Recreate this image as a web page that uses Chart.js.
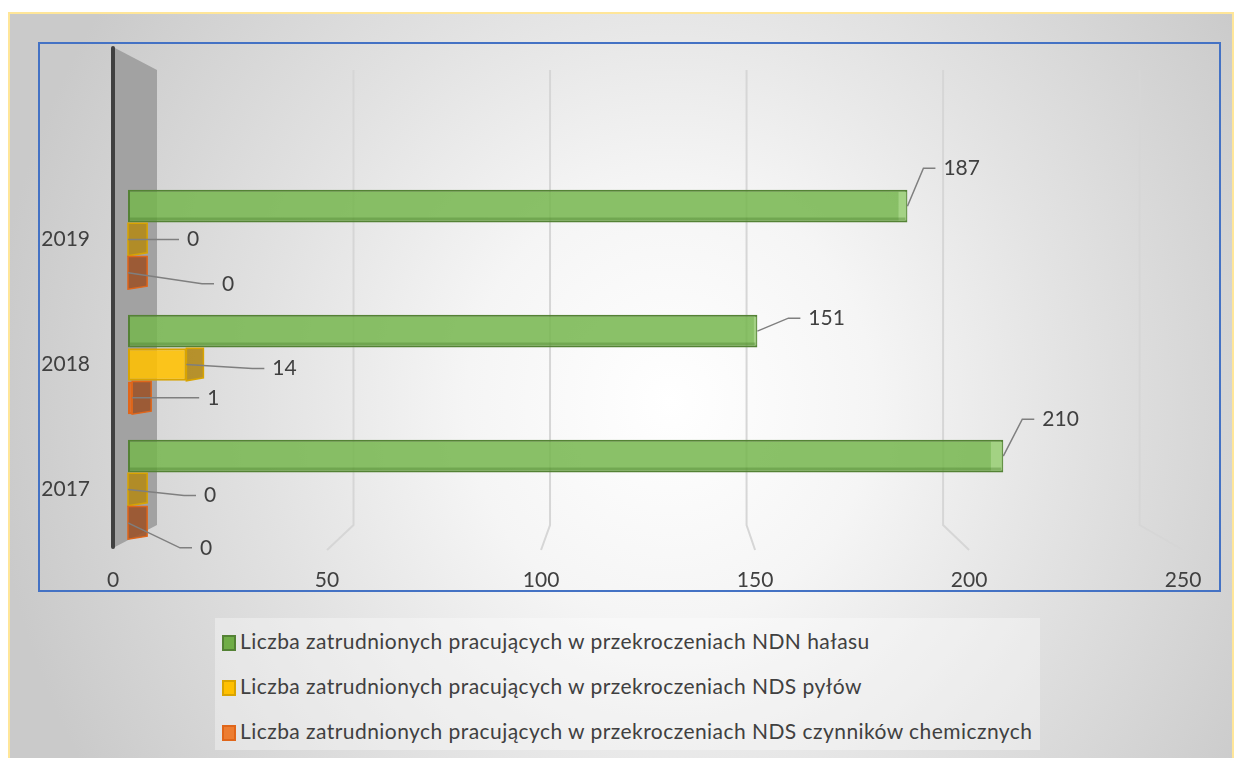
<!DOCTYPE html>
<html>
<head>
<meta charset="utf-8">
<script src="https://cdn.jsdelivr.net/npm/chart.js@4.4.1/dist/chart.umd.min.js"></script>
<style>
  body { margin: 0; background: #fff; font-family: Lato, "Open Sans", sans-serif; }
  #frame {
    position: absolute; left: 8px; top: 12px; width: 1222px; height: 760px;
    border: 2px solid #ffe699; border-bottom: none;
    background: radial-gradient(ellipse 680px 720px at 660px 388px, #ffffff 0%, #f5f5f5 30%, #e2e2e2 60%, #cacaca 100%);
  }
  #box { position: absolute; left: 38px; top: 42px; width: 1179px; height: 546px; border: 2px solid #4472c4; }
  #graph { position: absolute; left: 0; top: 0; }
  #legend {
    position: absolute; left: 215px; top: 618px; width: 825px; height: 132px;
    background: rgba(255, 255, 255, 0.35);
  }
  .item { position: absolute; left: 7px; height: 24px; line-height: 24px; font-size: 21px; letter-spacing: 0.45px; color: #404040; white-space: nowrap; }
  .item i { display: inline-block; width: 10px; height: 12px; border: 2px solid; margin-right: 4px; vertical-align: -2px; }
</style>
</head>
<body>
<div id="frame"></div>
<div id="box"></div>
<canvas id="graph" width="1235" height="600"></canvas>
<div id="legend"></div>
<script>
var years = ['2017', '2018', '2019'];
var noise = [210, 151, 187];
var dust = [0, 14, 0];
var chemicals = [0, 1, 0];
var seriesNames = [
  'Liczba zatrudnionych pracujących w przekroczeniach NDN hałasu',
  'Liczba zatrudnionych pracujących w przekroczeniach NDS pyłów',
  'Liczba zatrudnionych pracujących w przekroczeniach NDS czynników chemicznych'
];

// where each value label sits, measured from its bar end (per series, per year)
var labelShift = [
  [[39, -37], [51, -13], [36, -38]],
  [[76, 6], [86, 4], [59, 0]],
  [[72, 25], [75, 0], [94, 11]]
];
var sideColors = ['rgba(175,220,145,0.7)', 'rgba(178,138,28,0.92)', 'rgba(155,85,45,0.92)'];
var legendFill = ['#70ad47', '#ffc000', '#ed7d31'];

var fake3d = {
  id: 'fake3d',
  beforeDatasetsDraw: function(chart) {
    var ctx = chart.ctx, a = chart.chartArea, x = chart.scales.x;
    var p0 = x.getPixelForValue(0);
    var back = function(p) { return p0 + 29 + (p - p0) * 0.943; };
    var front = function(p) { return p0 - 15 + (p - p0) * 1.027; };
    ctx.save();
    ctx.strokeStyle = '#d6d6d6';
    ctx.lineWidth = 2;
    x.ticks.forEach(function(t) {
      if (t.value === 0) return;
      var p = x.getPixelForValue(t.value);
      ctx.beginPath();
      ctx.moveTo(back(p), a.top - 107);
      ctx.lineTo(back(p), a.bottom - 27);
      ctx.lineTo(front(p), a.bottom - 2);
      ctx.stroke();
    });
    // left wall
    ctx.fillStyle = '#a2a2a2';
    ctx.beginPath();
    ctx.moveTo(front(p0), a.top - 130);
    ctx.lineTo(back(p0), a.top - 107);
    ctx.lineTo(back(p0), a.bottom - 27);
    ctx.lineTo(front(p0), a.bottom - 4);
    ctx.closePath();
    ctx.fill();
    ctx.strokeStyle = '#404040';
    ctx.lineWidth = 4;
    ctx.lineCap = 'round';
    ctx.beginPath();
    ctx.moveTo(front(p0), a.top - 129);
    ctx.lineTo(front(p0), a.bottom - 5);
    ctx.stroke();
    ctx.restore();
  },
  afterDatasetsDraw: function(chart) {
    var ctx = chart.ctx, a = chart.chartArea, x = chart.scales.x;
    var p0 = x.getPixelForValue(0);
    var front = function(p) { return p0 - 15 + (p - p0) * 1.027; };
    ctx.save();
    chart.data.datasets.forEach(function(ds, di) {
      chart.getDatasetMeta(di).data.forEach(function(bar, i) {
        var top = bar.y - bar.height / 2, bot = bar.y + bar.height / 2;
        var d = (p0 + 532 - bar.x) * 0.036;
        ctx.fillStyle = sideColors[di];
        ctx.strokeStyle = ds.borderColor;
        ctx.lineWidth = 1.5;
        ctx.beginPath();
        if (d > 0) {
          ctx.moveTo(bar.x, top);
          ctx.lineTo(bar.x + d, top);
          ctx.lineTo(bar.x + d, bot - 3);
          ctx.lineTo(bar.x, bot);
          ctx.closePath();
          ctx.fill();
          ctx.stroke();
        } else {
          ctx.rect(bar.x + d, top + 2, -d - 1, bar.height - 4);
          ctx.fill();
        }
        if (di === 0) {
          // darker underside strip of the long bars
          ctx.fillStyle = 'rgba(70,120,40,0.35)';
          ctx.fillRect(p0 + 2, bot - 5, bar.x - p0 - 4, 3);
        }
        // value label with leader line
        var sh = labelShift[di][i];
        var lx = bar.x + sh[0], ly = bar.y + sh[1];
        ctx.strokeStyle = '#7f7f7f';
        ctx.lineWidth = 1.5;
        ctx.beginPath();
        ctx.moveTo(bar.x, bar.y);
        if (Math.abs(sh[1]) > 2) ctx.lineTo(lx - 20, ly);
        ctx.lineTo(lx - 8, ly);
        ctx.stroke();
        ctx.fillStyle = '#404040';
        ctx.font = '21px Lato';
        ctx.textAlign = 'left';
        ctx.textBaseline = 'middle';
        ctx.fillText(ds.data[i], lx, ly);
      });
    });
    // value axis labels sit on the front edge of the floor
    ctx.textAlign = 'center';
    x.ticks.forEach(function(t) {
      ctx.fillText(t.value, front(x.getPixelForValue(t.value)), a.bottom + 28);
    });
    ctx.restore();
  }
};

var chart = new Chart(document.getElementById('graph').getContext('2d'), {
  type: 'bar',
  data: {
    labels: years,
    datasets: [{
      label: seriesNames[0],
      data: noise,
      backgroundColor: 'rgba(118,182,78,0.85)',
      borderColor: '#548235'
    }, {
      label: seriesNames[1],
      data: dust,
      backgroundColor: 'rgba(255,192,0,0.88)',
      borderColor: '#d9a400'
    }, {
      label: seriesNames[2],
      data: chemicals,
      backgroundColor: 'rgba(237,125,49,0.85)',
      borderColor: '#e0661a'
    }]
  },
  options: {
    indexAxis: 'y',
    responsive: false,
    animation: false,
    layout: { padding: { left: 0, right: 65, top: 177, bottom: 48 } },
    datasets: { bar: { categoryPercentage: 0.8, barPercentage: 0.98, borderWidth: 2, borderSkipped: false } },
    scales: {
      x: {
        min: 0, max: 250,
        ticks: { stepSize: 50, display: false },
        grid: { display: false },
        border: { display: false },
        afterFit: function(s) { s.height = 0; }
      },
      y: {
        reverse: true,
        ticks: { color: '#404040', font: { family: 'Lato', size: 21 }, padding: 30 },
        grid: { display: false },
        border: { display: false },
        afterFit: function(s) { s.width = 128; }
      }
    },
    plugins: { legend: { display: false }, tooltip: { enabled: false } }
  },
  plugins: [fake3d]
});

var legend = document.getElementById('legend');
chart.data.datasets.forEach(function(ds, i) {
  var row = document.createElement('div');
  row.className = 'item';
  row.style.top = (11 + i * 45) + 'px';
  row.innerHTML = '<i style="background:' + legendFill[i] + ';border-color:' + ds.borderColor + '"></i>' + ds.label;
  legend.appendChild(row);
});
</script>
</body>
</html>
